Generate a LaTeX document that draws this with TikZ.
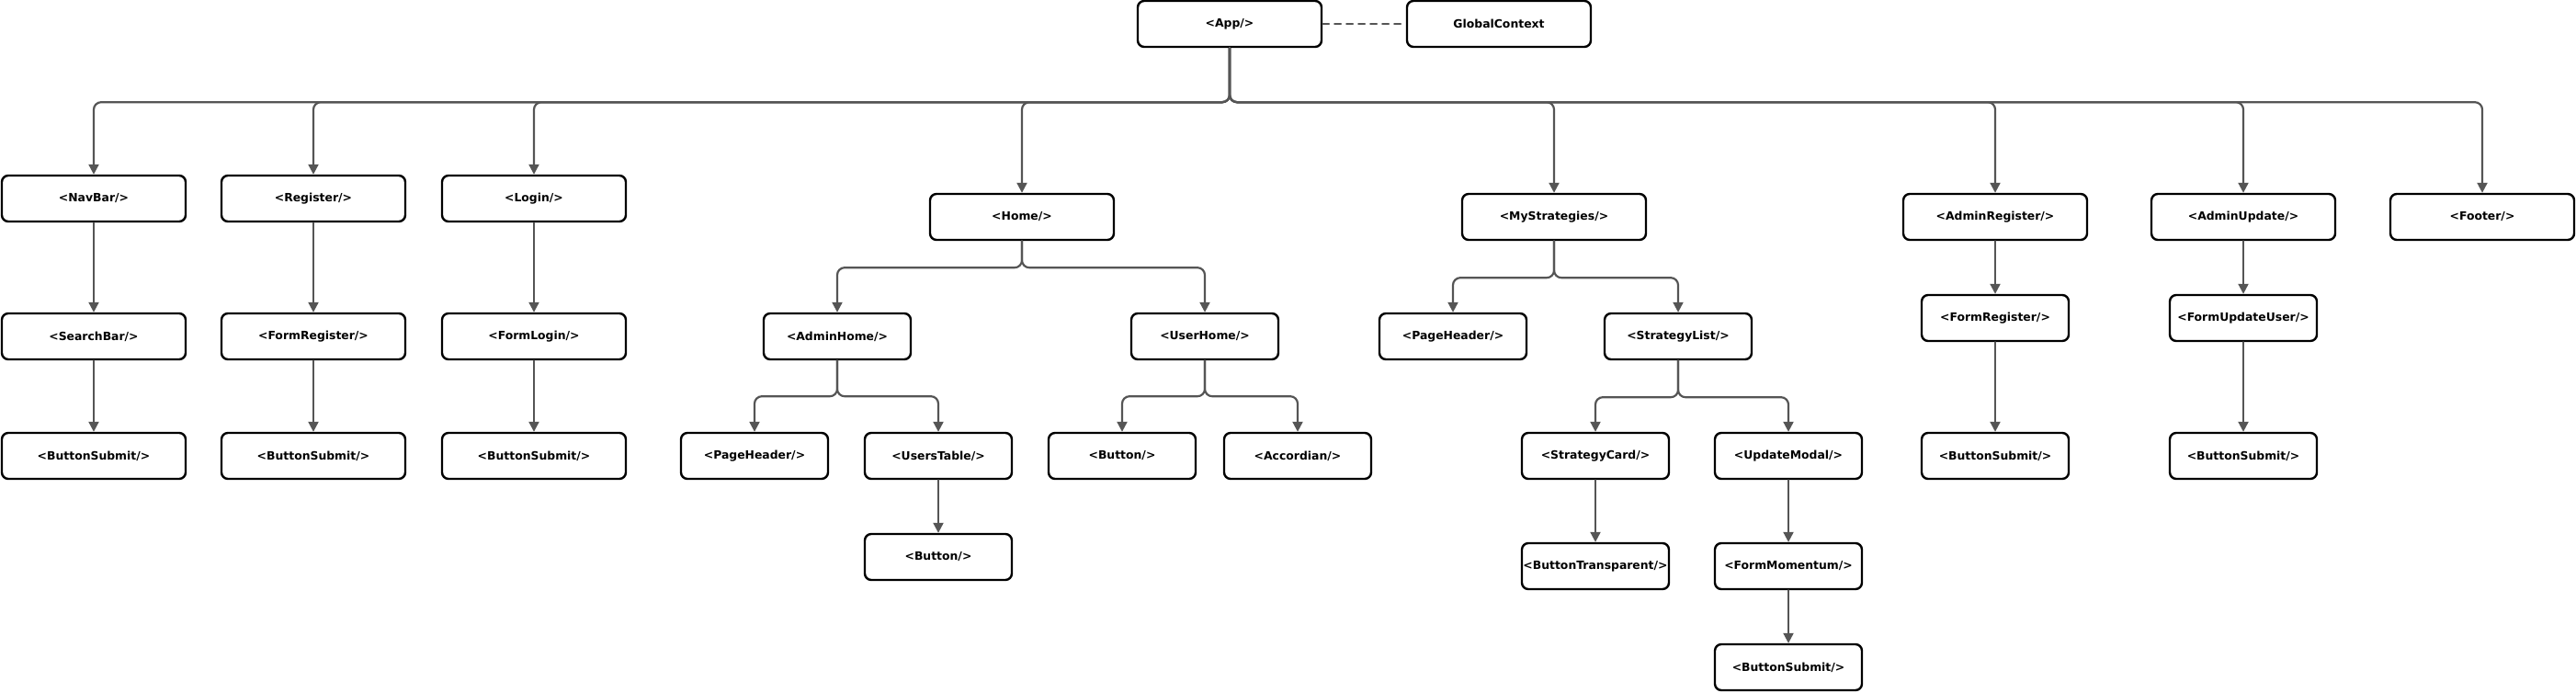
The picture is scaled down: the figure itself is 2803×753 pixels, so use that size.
\documentclass[tikz,border=0pt]{standalone}
\usepackage{fontspec}
\setmainfont{DejaVu Sans}
\usetikzlibrary{arrows.meta}
\definecolor{daynoi}{HTML}{555555}

\begin{document}
\begin{tikzpicture}[x=1pt, y=-1pt, line cap=round, line join=round,
	>={Triangle[length=11pt,width=11pt]},
	font=\fontsize{12.4}{14}\selectfont\bfseries,
	khoi/.style={draw=black, line width=2.4pt, rounded corners=7pt, fill=white,
		minimum width=200pt, minimum height=50pt, inner sep=0pt},
	khoinho/.style={khoi, minimum width=160pt},
	noi/.style={->, draw=daynoi, line width=2.2pt, rounded corners=8pt}]
	
	% Khung ảnh (đơn vị pixel)
	\useasboundingbox (0,0) rectangle (2803,753);
	
	% Gốc cây
	\node[khoi] (app) at (1338,26) {<App/>};
	\node[khoi] (ctx) at (1631,26) {GlobalContext};
	\draw[draw=daynoi, line width=2pt, dash pattern=on 7pt off 6pt] (app) -- (ctx);
	
	% Hàng thứ nhất
	\node[khoi] (nav) at (102,216) {<NavBar/>};
	\node[khoi] (reg) at (341,216) {<Register/>};
	\node[khoi] (login) at (581,216) {<Login/>};
	\node[khoi] (home) at (1112,236) {<Home/>};
	\node[khoi] (mystrat) at (1691,236) {<MyStrategies/>};
	\node[khoi] (adminreg) at (2171,236) {<AdminRegister/>};
	\node[khoi] (adminupd) at (2441,236) {<AdminUpdate/>};
	\node[khoi] (footer) at (2701,236) {<Footer/>};
	
	% Nhánh NavBar, Register, Login
	\node[khoi] (search) at (102,366) {<SearchBar/>};
	\node[khoi] (formreg) at (341,366) {<FormRegister/>};
	\node[khoi] (formlogin) at (581,366) {<FormLogin/>};
	\node[khoi] (submitnav) at (102,496) {<ButtonSubmit/>};
	\node[khoi] (submitreg) at (341,496) {<ButtonSubmit/>};
	\node[khoi] (submitlogin) at (581,496) {<ButtonSubmit/>};
	
	% Nhánh Home
	\node[khoinho] (adminhome) at (911,366) {<AdminHome/>};
	\node[khoinho] (userhome) at (1311,366) {<UserHome/>};
	\node[khoinho] (pagehead) at (821,496) {<PageHeader/>};
	\node[khoinho] (userstable) at (1021,496) {<UsersTable/>};
	\node[khoinho] (button) at (1221,496) {<Button/>};
	\node[khoinho] (accordian) at (1412,496) {<Accordian/>};
	\node[khoinho] (tablebtn) at (1021,606) {<Button/>};
	
	% Nhánh MyStrategies
	\node[khoinho] (pageheadB) at (1581,366) {<PageHeader/>};
	\node[khoinho] (stratlist) at (1826,366) {<StrategyList/>};
	\node[khoinho] (stratcard) at (1736,496) {<StrategyCard/>};
	\node[khoinho] (updmodal) at (1946,496) {<UpdateModal/>};
	\node[khoinho] (btntransp) at (1736,616) {<ButtonTransparent/>};
	\node[khoinho] (formmom) at (1946,616) {<FormMomentum/>};
	\node[khoinho] (submitmom) at (1946,726) {<ButtonSubmit/>};
	
	% Nhánh Admin
	\node[khoinho] (formregB) at (2171,346) {<FormRegister/>};
	\node[khoinho] (formupd) at (2441,346) {<FormUpdateUser/>};
	\node[khoinho] (submitadm) at (2171,496) {<ButtonSubmit/>};
	\node[khoinho] (submitupd) at (2441,496) {<ButtonSubmit/>};
	
	% Điểm rẽ nhánh
	\coordinate (appfork) at ([yshift=-59pt]app.south);
	\coordinate (homefork) at ([yshift=-29pt]home.south);
	\coordinate (mystratfork) at ([yshift=-40pt]mystrat.south);
	\coordinate (adminhomefork) at ([yshift=-39pt]adminhome.south);
	\coordinate (userhomefork) at ([yshift=-39pt]userhome.south);
	\coordinate (stratlistfork) at ([yshift=-40pt]stratlist.south);
	
	% Nối từ App
	\foreach \con in {nav,reg,login,home,mystrat,adminreg,adminupd,footer}
		\draw[noi] (app.south) -- (appfork) -| (\con.north);
	
	% Nối các nhánh rẽ
	\foreach \con in {adminhome,userhome}
		\draw[noi] (home.south) -- (homefork) -| (\con.north);
	\foreach \con in {pageheadB,stratlist}
		\draw[noi] (mystrat.south) -- (mystratfork) -| (\con.north);
	\foreach \con in {pagehead,userstable}
		\draw[noi] (adminhome.south) -- (adminhomefork) -| (\con.north);
	\foreach \con in {button,accordian}
		\draw[noi] (userhome.south) -- (userhomefork) -| (\con.north);
	\foreach \con in {stratcard,updmodal}
		\draw[noi] (stratlist.south) -- (stratlistfork) -| (\con.north);
	
	% Nối thẳng
	\foreach \a/\b in {nav/search, search/submitnav, reg/formreg, formreg/submitreg,
		login/formlogin, formlogin/submitlogin, userstable/tablebtn,
		stratcard/btntransp, updmodal/formmom, formmom/submitmom,
		adminreg/formregB, formregB/submitadm, adminupd/formupd, formupd/submitupd}
		\draw[noi] (\a) -- (\b);
	
\end{tikzpicture}
\end{document}
